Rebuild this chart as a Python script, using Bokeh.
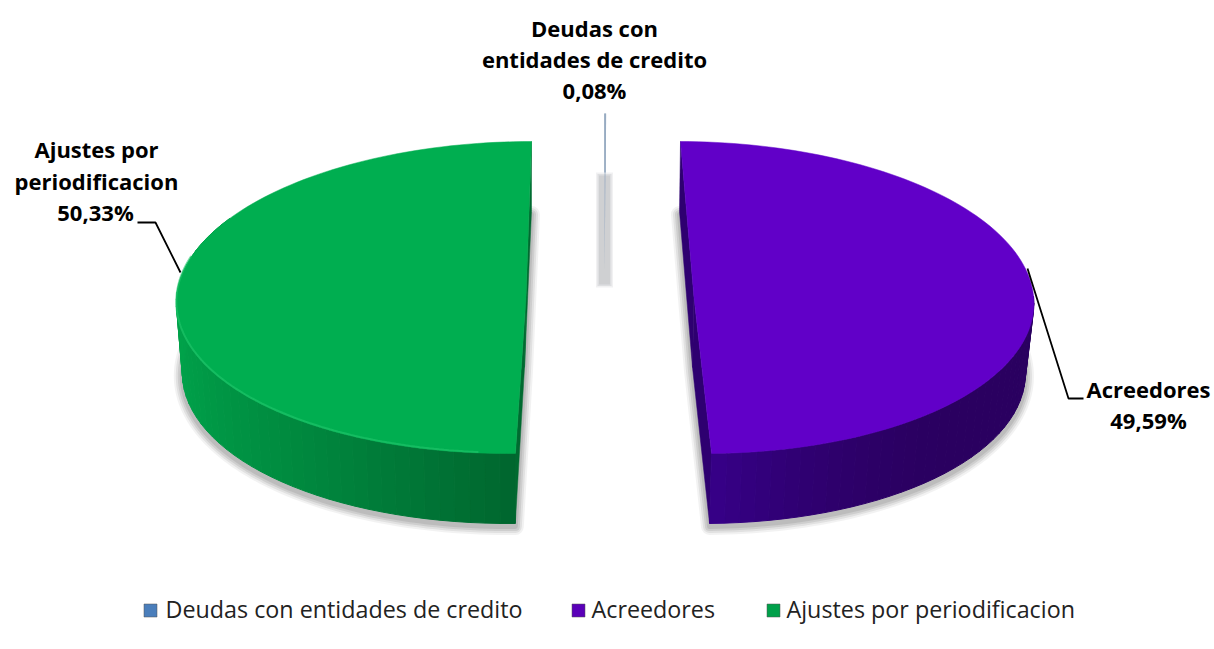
from math import sin, cos, radians
from bokeh.plotting import figure
from bokeh.models import Range1d
from bokeh.core.properties import value
from bokeh.embed import file_html
from bokeh.resources import INLINE

# ---- data
categories = ["Deudas con entidades de credito", "Acreedores", "Ajustes por periodificacion"]
percent_values = [0.08, 49.59, 50.33]
percent_labels = ["0,08%", "49,59%", "50,33%"]

# ---- styling / layout
W, H = 1214, 649
FONT = "Open Sans"
LABEL_PX, LEGEND_PX = "22px", "23.3px"
CY, B, DEPTH = 297, 156, 70
GEOM = [
    dict(cx=604.5, a=340, k=0.5, apex=(604.0, 272), cxb=604.5, ab=340, kb=0.5, apexb=(604.0, 272),
         face="#8fa5bd", near="#8fa5bd", far="#8fa5bd", inner="#8fa5bd", rim=None),
    dict(cx=691.15, a=342, k=12.85, apex=(693.5, 297), cxb=689.7, ab=335, kb=12.4, apexb=(692, 367),
         face="#6100c8", near="#2a0060", far="#37008a", inner="#2e0070", rim=None),
    dict(cx=519.4, a=343.4, k=-11.6, apex=(525.5, 297), cxb=519.4, ab=337.4, kb=-11.6, apexb=(524, 367),
         face="#00ae50", near="#00a24a", far="#00672f", inner="#006a30", rim="#22c76c"),
]
LEGEND_Y, SWATCH = 610, 13
LEGEND_X = [150, 578, 773]
LEGEND_TEXT_X = [165, 591, 786]
LEGEND_COL = ["#4a7ebb", "#5a00b8", "#00a04a"]

p = figure(width=W, height=H, x_range=Range1d(0, W), y_range=Range1d(H, 0),
           toolbar_location=None, output_backend="svg", min_border=0,
           x_axis_location=None, y_axis_location=None, background_fill_color="white",
           border_fill_color="white")
p.outline_line_color = None
p.grid.visible = False


def top_pt(g, th):
    t = radians(th)
    return g["cx"] + g["a"] * sin(t) - g["k"] * cos(t), CY - B * cos(t)


def bot_pt(g, th):
    t = radians(th)
    return g["cxb"] + g["ab"] * sin(t) - g["kb"] * cos(t), CY + DEPTH - B * cos(t)


def arc(fn, g, a0, a1, n=120):
    return [fn(g, a0 + (a1 - a0) * i / n) for i in range(n + 1)]


def mix(c0, c1, f):
    v = [int(c0[i:i + 2], 16) * (1 - f) + int(c1[i:i + 2], 16) * f for i in (1, 3, 5)]
    return "#%02x%02x%02x" % tuple(round(x) for x in v)


# cumulative angles from the values, clockwise from the top
angles = []
acc = 0.0
total = sum(percent_values)
for v in percent_values:
    angles.append((acc * 360 / total, (acc + v) * 360 / total))
    acc += v

# shadows
for g, (a0, a1) in list(zip(GEOM, angles))[1:]:
    pts = [g["apexb"]] + arc(bot_pt, g, a0, a1)
    xs = [q[0] for q in pts]
    ys = [q[1] + 3 for q in pts]
    for w, al in ((17, .10), (13, .15), (9, .20), (5, .22)):
        p.patch(xs, ys, fill_alpha=0, line_color="#808080", line_width=w,
                line_alpha=al, fill_color="#808080", line_join="round")

# small slice: its shadow bar and hairline
g, (a0, a1) = GEOM[0], angles[0]
sx = g["apex"][0]
for w, al in ((17, .16), (14, .25), (11, .28)):
    inset = (17 - w) / 2
    p.line([sx, sx], [172 + inset, 287 - inset], line_color="#a8aaae", line_width=w, line_alpha=al)
tip = arc(top_pt, g, a0, a1, 4)
p.patch([g["apex"][0]] + [q[0] for q in tip], [g["apex"][1]] + [q[1] - 28 for q in tip],
        fill_color=g["face"], fill_alpha=.7, line_color=None)

# two large slices
for g, (a0, a1) in list(zip(GEOM, angles))[1:]:
    top = arc(top_pt, g, a0, a1)
    bot = arc(bot_pt, g, a0, a1)
    # cut faces on both sides of the apex
    for u, d in ((top[0], bot[0]), (top[-1], bot[-1])):
        p.patch([g["apex"][0], u[0], d[0], g["apexb"][0]], [g["apex"][1], u[1], d[1], g["apexb"][1]],
                fill_color=g["inner"], line_color=g["inner"], line_width=0.5)
    # outer side wall, in small shaded strips
    n = 70
    ths = [a0 + (a1 - a0) * i / n for i in range(n + 1)]
    qx, qy, cols = [], [], []
    for i in range(n):
        t0, t1 = ths[i], ths[i + 1]
        if not (90 <= (t0 + t1) / 2 <= 300):
            continue
        u0, u1, d1, d0 = top_pt(g, t0), top_pt(g, t1), bot_pt(g, t1), bot_pt(g, t0)
        qx.append([u0[0], u1[0], d1[0], d0[0]])
        qy.append([u0[1], u1[1], d1[1], d0[1]])
        if g["rim"]:
            f = min(1.0, abs((t0 + t1) / 2 - 270) / 90) ** 1.5
        else:
            f = min(1.0, max(0.0, ((t0 + t1) / 2 - 130) / 50)) ** 2
        cols.append(mix(g["near"], g["far"], f))
    p.patches(qx, qy, fill_color=cols, line_color=cols, line_width=1)
    # top face
    xs = [g["apex"][0]] + [q[0] for q in top]
    ys = [g["apex"][1]] + [q[1] for q in top]
    p.patch(xs, ys, fill_color=g["face"], line_color=g["face"], line_width=0.5)
    if g["rim"]:
        r = arc(top_pt, g, 185, 285)
        p.line([q[0] for q in r], [q[1] - 1 for q in r], line_color=g["rim"], line_width=2, line_alpha=.6)

# leader lines
p.line([604.5, 604.5], [113, 172], line_color="#8fa5bd", line_width=1.5)
p.line([180, 155, 137], [272, 222, 222], line_color="black", line_width=1.8)
p.line([1027, 1068, 1083], [268, 398, 398], line_color="black", line_width=1.8)


def lab(x, y, t):
    p.text([x], [y], text=[t], text_font=value(FONT), text_font_style="bold", text_font_size=LABEL_PX,
           text_align="center", text_baseline="middle", text_color="black")


lab(594, 27, "Deudas con")
lab(594, 58, "entidades de credito")
lab(594, 89, percent_labels[0])
lab(96, 148, "Ajustes por")
lab(96, 180, "periodificacion")
lab(95, 211, percent_labels[2])
lab(1148, 388, categories[1])
lab(1148, 419, percent_labels[1])

# legend
for x, tx, c, col in zip(LEGEND_X, LEGEND_TEXT_X, categories, LEGEND_COL):
    p.rect([x], [LEGEND_Y], width=SWATCH, height=SWATCH, fill_color=col, line_color="#555555", line_alpha=.5)
    p.text([tx], [LEGEND_Y - 2], text=[c], text_font=value(FONT), text_font_size=LEGEND_PX,
           text_align="left", text_baseline="middle", text_color="#222222")

open("out.html", "w").write(file_html(p, INLINE))
